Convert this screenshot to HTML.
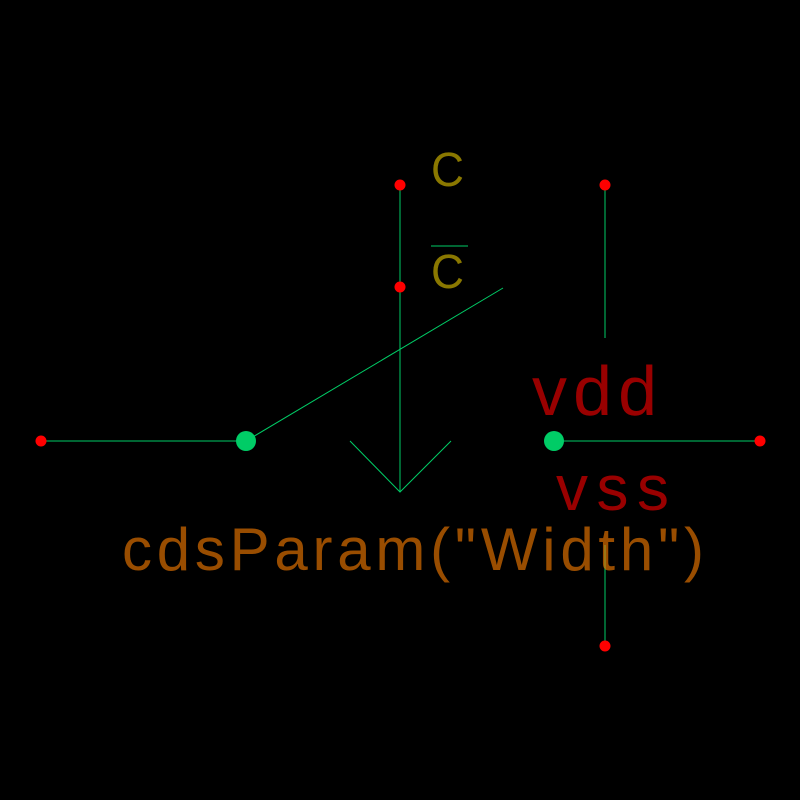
<!DOCTYPE html>
<html><head><meta charset="utf-8"><style>
html,body{margin:0;padding:0;background:#000;}
svg{display:block}
text{font-family:"Liberation Sans",sans-serif;font-weight:normal;fill-opacity:0.6;}
</style></head><body>
<svg width="800" height="800" viewBox="0 0 800 800">
<rect width="800" height="800" fill="#000"/>
<g stroke="#00cc66" stroke-width="1" fill="none">
<line x1="41" y1="441" x2="246" y2="441"/>
<line x1="554" y1="441" x2="760" y2="441"/>
<line x1="400" y1="185" x2="400" y2="492"/>
<polyline points="350,441 400,492 451,441"/>
<line x1="246" y1="441" x2="503" y2="288"/>
<line x1="605" y1="185" x2="605" y2="338"/>
<line x1="605" y1="545" x2="605" y2="646"/>
<line x1="431" y1="246" x2="468" y2="246"/>
</g>
<circle cx="246" cy="441" r="10" fill="#00cc66"/>
<circle cx="554" cy="441" r="10" fill="#00cc66"/>
<g fill="#ff0000">
<circle cx="41" cy="441" r="5.5"/>
<circle cx="760" cy="441" r="5.5"/>
<circle cx="400" cy="185" r="5.5"/>
<circle cx="400" cy="287" r="5.5"/>
<circle cx="605" cy="185" r="5.5"/>
<circle cx="605" cy="646" r="5.5"/>
</g>
<text x="431" y="186" font-size="48" fill="#e6c800" textLength="33" lengthAdjust="spacingAndGlyphs">C</text>
<text x="431" y="288" font-size="48" fill="#e6c800" textLength="33" lengthAdjust="spacingAndGlyphs">C</text>
<text x="532" y="415" font-size="70" fill="#ff0000" textLength="125" lengthAdjust="spacing">vdd</text>
<text x="556" y="510" font-size="64" fill="#ff0000" textLength="113" lengthAdjust="spacing">vss</text>
<text x="122" y="570" font-size="60" fill="#ff8000" textLength="582" lengthAdjust="spacing">cdsParam("Width")</text>
</svg>
</body></html>
